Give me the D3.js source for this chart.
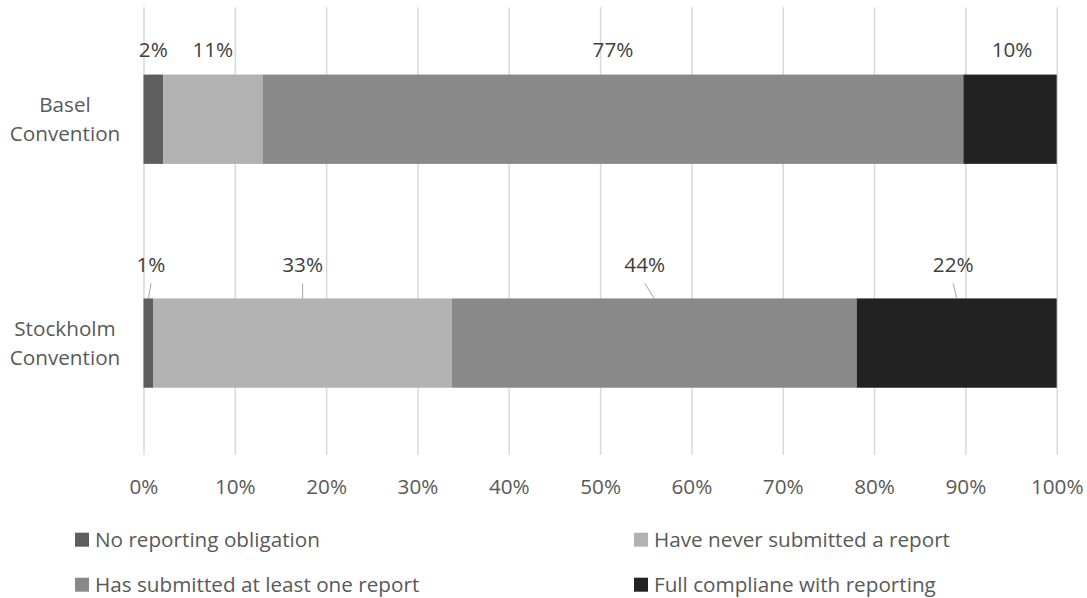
<!DOCTYPE html>
<html>
<head>
<meta charset="utf-8">
<script src="https://cdn.jsdelivr.net/npm/d3@7"></script>
<style>
  html, body { margin: 0; padding: 0; background: #fff; }
  svg { display: block; }
</style>
</head>
<body>
<svg id="chart" width="1087" height="598"></svg>
<script>
// ---- data ----
const categories = ["Basel Convention", "Stockholm Convention"];
const categoryLines = [["Basel", "Convention"], ["Stockholm", "Convention"]];
const seriesNames = [
  "No reporting obligation",
  "Have never submitted a report",
  "Has submitted at least one report",
  "Full compliane with reporting"
];
const noObligation   = [2.15, 1.09];
const neverSubmitted = [10.88, 32.67];
const atLeastOne     = [76.75, 44.34];
const fullCompliance = [10.22, 21.90];
const tickValues = [0, 10, 20, 30, 40, 50, 60, 70, 80, 90, 100];

// ---- style / layout ----
const colors = ["#5e5e5e", "#b2b2b2", "#898989", "#222222"];
const textColor = "#595959";
const labelColor = "#404040";
const fontFamily = "'Open Sans', 'Noto Sans', sans-serif";
// label offsets (px) relative to segment centre, per category / series
const labelDx = [[0, 0, 0, 2], [2.5, 0, -9.5, -3.5]];
const leaderLines = [false, true];

const svg = d3.select("#chart");

// fit font size to reference width of a legend label
const probe = svg.append("text").attr("font-family", fontFamily).attr("font-size", 24)
  .text("No reporting obligation");
const w = probe.node().getComputedTextLength();
probe.remove();
const fs = 24 * 225 / w;

const seriesData = [noObligation, neverSubmitted, atLeastOne, fullCompliance];
const rows = categories.map((c, i) => {
  const r = { cat: c };
  seriesNames.forEach((s, j) => r[s] = seriesData[j][i]);
  return r;
});
const stacked = d3.stack().keys(seriesNames)(rows);

const x = d3.scaleLinear().domain([0, 100]).range([143.5, 1056.7]);
const y = d3.scaleBand().domain(categories).range([7.3, 455]).paddingInner(0.601).paddingOuter(0.3005);

// gridlines + tick labels
const axis = d3.axisBottom(x).tickValues(tickValues).tickFormat(d => d + "%")
  .tickSizeInner(-(455 - 7.3)).tickSizeOuter(0);
const gAxis = svg.append("g").attr("transform", "translate(0,455)").call(axis);
gAxis.select(".domain").remove();
gAxis.selectAll(".tick line").attr("stroke", "#d9d9d9").attr("stroke-width", 1.5);
gAxis.selectAll(".tick text")
  .attr("dy", null).attr("y", 39)
  .attr("fill", textColor).attr("font-family", fontFamily).attr("font-size", fs);

// bars
const gBars = svg.append("g");
stacked.forEach((layer, j) => {
  gBars.selectAll(null).data(layer).enter().append("rect")
    .attr("x", d => x(d[0]))
    .attr("y", d => y(d.data.cat))
    .attr("width", d => x(d[1]) - x(d[0]))
    .attr("height", y.bandwidth())
    .attr("fill", colors[j]);
});

// data labels
const gLab = svg.append("g");
categories.forEach((c, i) => {
  const top = y(c);
  const baseline = leaderLines[i] ? top - 26.3 : top - 17.7;
  stacked.forEach((layer, j) => {
    const d = layer[i];
    const cx = x((d[0] + d[1]) / 2);
    const lx = cx + labelDx[i][j];
    if (leaderLines[i]) {
      gLab.append("line")
        .attr("x1", cx).attr("y1", top)
        .attr("x2", lx).attr("y2", top - 15)
        .attr("stroke", "#a6a6a6").attr("stroke-width", 1);
    }
    gLab.append("text")
      .attr("x", lx).attr("y", baseline)
      .attr("text-anchor", "middle")
      .attr("fill", labelColor).attr("font-family", fontFamily).attr("font-size", fs)
      .text(d3.format(".0f")(d[1] - d[0]) + "%");
  });
});

// category labels
categories.forEach((c, i) => {
  const cy = y(c) + y.bandwidth() / 2;
  const lines = categoryLines[i];
  lines.forEach((t, k) => {
    svg.append("text")
      .attr("x", 65)
      .attr("y", cy + (k - (lines.length - 1) / 2) * 29 + fs * 0.36)
      .attr("text-anchor", "middle")
      .attr("fill", textColor).attr("font-family", fontFamily).attr("font-size", fs)
      .text(t);
  });
});

// legend (two columns, row-wise)
const legendCols = [75, 634];
const legendRows = [547, 592];
const gLeg = svg.append("g");
seriesNames.forEach((s, j) => {
  const lx = legendCols[j % 2];
  const ly = legendRows[Math.floor(j / 2)];
  gLeg.append("rect")
    .attr("x", lx).attr("y", ly - 14.3).attr("width", 14).attr("height", 14)
    .attr("fill", colors[j]);
  gLeg.append("text")
    .attr("x", lx + 20).attr("y", ly)
    .attr("fill", textColor).attr("font-family", fontFamily).attr("font-size", fs)
    .text(s);
});
</script>
</body>
</html>
